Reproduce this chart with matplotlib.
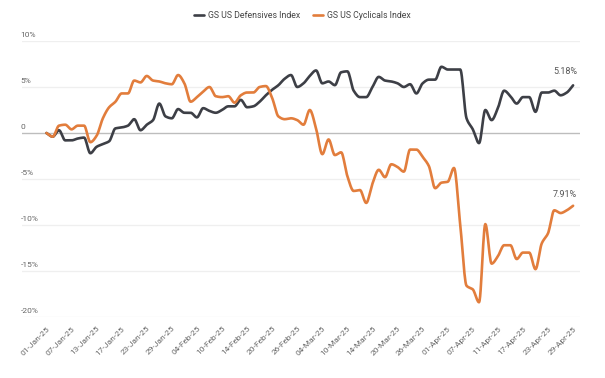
import matplotlib
matplotlib.use("Agg")
import matplotlib.pyplot as plt
import matplotlib.transforms as mtransforms
import numpy as np
import pandas as pd

plt.rcParams['font.family'] = ['Roboto', 'DejaVu Sans']

dates = pd.bdate_range("2025-01-01", "2025-04-29")
tick_every = 4

defensives = [
    0.0, -0.4, 0.3, -0.8, -0.8, -0.6, -0.5, -2.2, -1.5, -1.2,
    -0.9, 0.5, 0.6, 0.8, 1.5, 0.3, 0.9, 1.4, 3.2, 1.8,
    1.6, 2.6, 2.2, 2.2, 1.7, 2.7, 2.4, 2.2, 2.5, 2.9,
    2.9, 3.6, 2.8, 2.9, 3.4, 4.1, 4.7, 5.2, 5.9, 6.3,
    5.0, 5.4, 6.2, 6.8, 5.4, 5.6, 5.2, 6.6, 6.7, 4.6,
    3.9, 3.9, 5.0, 6.1, 5.7, 5.6, 5.4, 5.0, 5.3, 4.3,
    5.4, 5.8, 5.8, 7.2, 6.9, 6.9, 6.9, 1.6, 0.4, -1.1,
    2.5, 1.4, 2.7, 4.6, 4.0, 3.2, 3.9, 3.9, 2.3, 4.4,
    4.4, 4.6, 4.1, 4.4, 5.18,
]

cyclicals = [
    0.0, -0.4, 0.8, 0.9, 0.4, 0.8, 0.8, -1.0, -0.3, 1.6,
    2.8, 3.4, 4.3, 4.3, 5.7, 5.5, 6.2, 5.7, 5.6, 5.4,
    5.3, 6.3, 5.4, 3.4, 3.9, 4.5, 5.0, 4.0, 3.9, 4.0,
    3.3, 4.1, 4.4, 4.4, 5.0, 5.1, 3.8, 1.8, 1.5, 1.6,
    1.4, 0.9, 2.5, 0.5, -2.3, -0.7, -2.4, -2.1, -4.7, -6.3,
    -6.2, -7.6, -5.5, -4.0, -4.8, -3.4, -3.7, -4.2, -1.8, -1.8,
    -2.6, -3.6, -6.0, -5.4, -5.3, -3.8, -10.0, -16.6, -17.0, -18.4,
    -9.9, -14.2, -13.4, -12.2, -12.2, -13.7, -13.0, -13.0, -14.8, -12.0,
    -10.9, -8.4, -8.7, -8.4, -7.91,
]

yticks = [10, 5, 0, -5, -10, -15, -20]
ytick_labels = ["10%", "5%", "0", "-5%", "-10%", "-15%", "-20%"]
end_labels = ["5.18%", "7.91%"]
series_names = ["GS US Defensives Index", "GS US Cyclicals Index"]
colors = ["#3d3f46", "#e27d3c"]


def smooth_path(xs, ys, n=12):
    """Monotone cubic (PCHIP-style) rendering of the line through the data points."""
    xs = np.asarray(xs, float)
    ys = np.asarray(ys, float)
    h = np.diff(xs)
    d = np.diff(ys) / h
    m = np.zeros_like(ys)
    for k in range(1, len(ys) - 1):
        if d[k - 1] * d[k] > 0:
            w1 = 2 * h[k] + h[k - 1]
            w2 = h[k] + 2 * h[k - 1]
            m[k] = (w1 + w2) / (w1 / d[k - 1] + w2 / d[k])
    m[0] = d[0]
    m[-1] = d[-1]
    out_x, out_y = [], []
    t = np.linspace(0, 1, n, endpoint=False)
    for k in range(len(xs) - 1):
        h00 = 2 * t**3 - 3 * t**2 + 1
        h10 = t**3 - 2 * t**2 + t
        h01 = -2 * t**3 + 3 * t**2
        h11 = t**3 - t**2
        out_x.append(xs[k] + t * h[k])
        out_y.append(h00 * ys[k] + h10 * h[k] * m[k] + h01 * ys[k + 1] + h11 * h[k] * m[k + 1])
    out_x.append([xs[-1]])
    out_y.append([ys[-1]])
    return np.concatenate(out_x), np.concatenate(out_y)


fig = plt.figure(figsize=(6.05, 3.78), dpi=100)
ax = fig.add_axes([22 / 605, 1 - 317 / 378, (580 - 22) / 605, (317 - 41) / 378])

x = np.arange(len(dates))
for vals, c, name in zip([defensives, cyclicals], colors, series_names):
    sx, sy = smooth_path(x, vals)
    ax.plot(sx, sy, color=c, lw=1.9, solid_capstyle='round', solid_joinstyle='round', label=name, zorder=3)

ax.set_ylim(-20, 10)
ax.set_xlim(-3.9, 85.1)

for yt in yticks:
    if yt == 0:
        ax.axhline(yt, color="#bdbdbd", lw=1.0, zorder=1)
    else:
        ax.axhline(yt, color="#efefef", lw=0.9, zorder=1)

ax.set_yticks([])
trans = mtransforms.blended_transform_factory(ax.transAxes, ax.transData)
for yt, lab in zip(yticks, ytick_labels):
    ax.annotate(lab, xy=(0, yt), xycoords=trans, xytext=(-1, 2), textcoords='offset points',
                ha='left', va='bottom', fontsize=6, color="#666666")

xt = x[::tick_every]
ax.set_xticks(xt)
ax.set_xticklabels([dates[i].strftime("%d-%b-%y") for i in xt], rotation=45, ha='right',
                   rotation_mode='anchor', fontsize=6, color="#666666")
ax.tick_params(axis='x', length=0, pad=6)

for s in ax.spines.values():
    s.set_visible(False)

ax.annotate(end_labels[0], xy=(x[-1], defensives[-1]), xytext=(3, 7), textcoords='offset points',
            ha='right', va='bottom', fontsize=6.5, color="#555555")
ax.annotate(end_labels[1], xy=(x[-1], cyclicals[-1]), xytext=(3, 5), textcoords='offset points',
            ha='right', va='bottom', fontsize=6.5, color="#555555")

fig.legend(loc='center', bbox_to_anchor=(0.5, 1 - 15.5 / 378), ncol=2, frameon=False,
           fontsize=6.3, handlelength=1.1, handletextpad=0.5, columnspacing=1.5,
           labelcolor="#444444")

fig.savefig("out.png", dpi=100)
